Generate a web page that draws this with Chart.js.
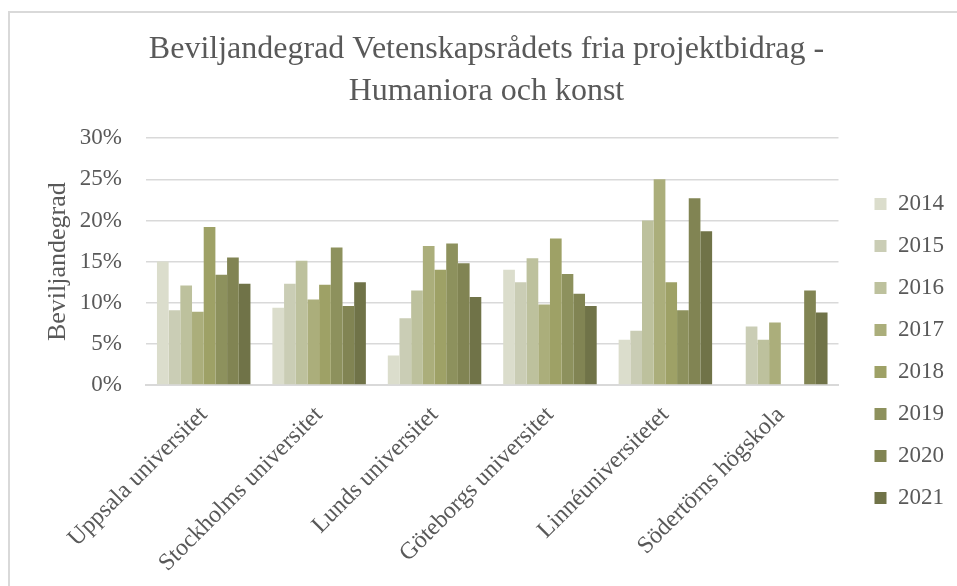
<!DOCTYPE html>
<html>
<head>
  <meta charset="utf-8">
  <title>Beviljandegrad</title>
  <script src="https://cdn.jsdelivr.net/npm/chart.js@4/dist/chart.umd.min.js"></script>
  <style>
    body { margin: 0; background: #fff; overflow: hidden; }
    #frame { position: absolute; left: 8px; top: 11px; width: 1000px; height: 700px; border: 2px solid #d9d9d9; }
    #wrap { position: absolute; left: 0; top: 0; width: 957px; height: 586px; }
  </style>
</head>
<body>
  <div id="frame"></div>
  <div id="wrap"><canvas id="barChart"></canvas></div>

  <script>
    // universities on the x axis
    var categories = ["Uppsala universitet", "Stockholms universitet", "Lunds universitet",
                      "Göteborgs universitet", "Linnéuniversitetet", "Södertörns högskola"];
    var years = ["2014", "2015", "2016", "2017", "2018", "2019", "2020", "2021"];

    // beviljandegrad in percent, one array per year (null = no bar)
    var y2014 = [15.0, 9.4, 3.6, 14.0, 5.5, null];
    var y2015 = [9.1, 12.3, 8.1, 12.5, 6.6, 7.1];
    var y2016 = [12.1, 15.1, 11.5, 15.4, 20.0, 5.5];
    var y2017 = [8.9, 10.4, 16.9, 9.8, 25.0, 7.6];
    var y2018 = [19.2, 12.2, 14.0, 17.8, 12.5, null];
    var y2019 = [13.4, 16.7, 17.2, 13.5, 9.1, null];
    var y2020 = [15.5, 9.6, 14.8, 11.1, 22.7, 11.5];
    var y2021 = [12.3, 12.5, 10.7, 9.6, 18.7, 8.8];

    var yTicks = [0, 5, 10, 15, 20, 25, 30];

    var series = [y2014, y2015, y2016, y2017, y2018, y2019, y2020, y2021];
    var colors = ["#dbddcc", "#cacdb5", "#bdc19d", "#abae7b", "#9ea166", "#8d915d", "#818453", "#707348"];

    var serif = "'Liberation Serif', 'Times New Roman', serif";
    var grey = "#595959";

    var datasets = series.map(function(vals, i) {
      return {
        label: years[i],
        data: vals,
        backgroundColor: colors[i],
        borderWidth: 0,
        barPercentage: 1.0,
        categoryPercentage: 0.81
      };
    });

    // push the legend a bit to the right of where chart.js puts it
    var nudgeLegend = {
      id: "nudgeLegend",
      afterLayout: function(chart) {
        chart.legend.left += 17;
        chart.legend.right += 17;
      }
    };

    var ctx = document.getElementById("barChart").getContext("2d");
    new Chart(ctx, {
      type: "bar",
      data: { labels: categories, datasets: datasets },
      plugins: [nudgeLegend],
      options: {
        responsive: true,
        maintainAspectRatio: false,
        animation: false,
        layout: { padding: { left: 36, right: 20, top: 12, bottom: 0 } },
        plugins: {
          title: {
            display: true,
            text: ["Beviljandegrad Vetenskapsrådets fria projektbidrag -", "Humaniora och konst"],
            color: grey,
            font: { family: serif, size: 32, weight: "normal", lineHeight: 1.3 },
            padding: { top: 17, bottom: 26 }
          },
          legend: {
            position: "right",
            title: { display: true, text: " ", font: { size: 10, lineHeight: 1 }, padding: { top: 94, bottom: 0 } },
            labels: {
              color: grey,
              font: { family: serif, size: 23 },
              boxWidth: 12,
              boxHeight: 12,
              padding: 19
            }
          },
          tooltip: { enabled: false }
        },
        scales: {
          x: {
            grid: { display: false },
            border: { color: "#d9d9d9", width: 2 },
            ticks: {
              color: grey,
              font: { family: serif, size: 24 },
              minRotation: 45,
              maxRotation: 45,
              padding: 8
            },
            afterFit: function(s) {
              // let the rotated labels hang into the left margin, as in the original
              s.paddingLeft = 0;
              s.paddingRight = 0;
              s.height = 201;
            }
          },
          y: {
            min: 0,
            max: 30,
            afterBuildTicks: function(axis) {
              axis.ticks = yTicks.map(function(v) { return { value: v }; });
            },
            afterFit: function(s) {
              s.width = 110;
            },
            grid: { color: "#d9d9d9", lineWidth: 1.5, drawTicks: false },
            border: { display: false },
            ticks: {
              color: grey,
              font: { family: serif, size: 23 },
              padding: 24,
              callback: function(v) { return v + "%"; }
            },
            title: {
              display: true,
              text: "Beviljandegrad",
              color: grey,
              font: { family: serif, size: 26 },
              padding: { top: 7, bottom: 7 }
            }
          }
        }
      }
    });
  </script>
</body>
</html>
